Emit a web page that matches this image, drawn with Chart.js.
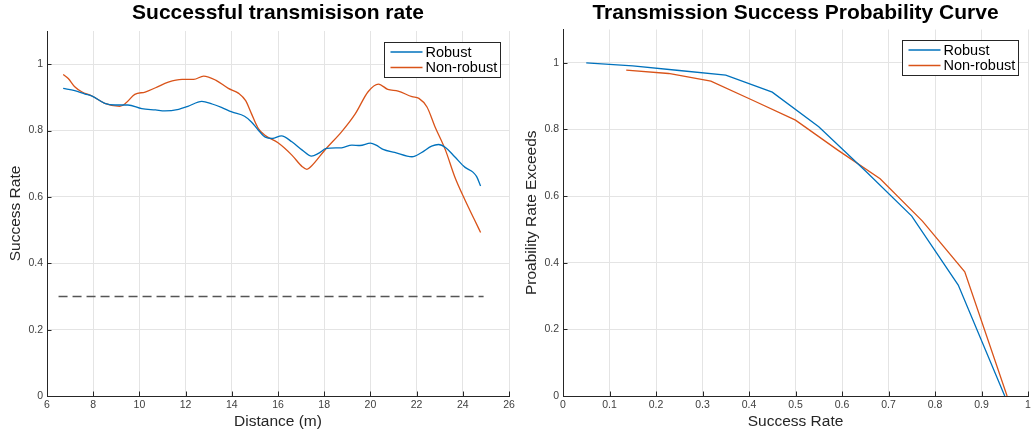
<!DOCTYPE html>
<html lang="en">
<head>
<meta charset="UTF-8">
<title>Transmission Success</title>
<script src="https://cdn.jsdelivr.net/npm/chart.js"></script>
<style>
    body { margin: 0; background: #fff; }
    #wrap { position: relative; width: 1032px; height: 434px; }
    #wrap canvas { position: absolute; top: 0; }
    #rateChart { left: 0; }
    #probChart { left: 516px; }
</style>
</head>
<body>
<div id="wrap">
    <canvas id="rateChart" width="516" height="434"></canvas>
    <canvas id="probChart" width="516" height="434"></canvas>
</div>
<script>
// success rate against distance (m)
const robustDist = [6.7, 7.2, 7.65, 7.95, 8.5, 8.95, 9.5, 10.1, 10.7, 11.1, 11.7, 12.1, 12.7, 13.15, 13.55, 14.0, 14.55, 14.85, 15.15, 15.45, 15.75, 16.15, 16.6, 17.05, 17.45, 17.75, 18.1, 18.75, 19.2, 19.55, 20.0, 20.25, 20.55, 21.05, 21.8, 22.2, 22.65, 22.95, 23.25, 23.65, 24.1, 24.45, 24.6, 24.77];
const robustRate = [0.927, 0.920, 0.910, 0.904, 0.882, 0.877, 0.877, 0.866, 0.862, 0.859, 0.864, 0.873, 0.888, 0.880, 0.870, 0.856, 0.843, 0.826, 0.801, 0.780, 0.776, 0.784, 0.766, 0.741, 0.723, 0.731, 0.746, 0.748, 0.756, 0.755, 0.762, 0.756, 0.743, 0.734, 0.721, 0.733, 0.753, 0.758, 0.749, 0.721, 0.689, 0.674, 0.661, 0.633];
const nonRobustDist = [6.7, 6.92, 7.2, 7.5, 7.95, 8.5, 9.15, 9.4, 9.8, 10.25, 10.7, 11.25, 11.85, 12.35, 12.78, 13.3, 13.85, 14.3, 14.6, 14.85, 15.15, 15.45, 16.0, 16.6, 17.05, 17.25, 17.45, 18.05, 18.75, 19.35, 19.9, 20.35, 20.75, 21.2, 21.8, 22.1, 22.45, 22.8, 23.25, 23.65, 24.1, 24.5, 24.77];
const nonRobustRate = [0.969, 0.957, 0.932, 0.917, 0.904, 0.882, 0.873, 0.882, 0.909, 0.916, 0.929, 0.946, 0.954, 0.954, 0.964, 0.952, 0.927, 0.912, 0.890, 0.851, 0.806, 0.785, 0.763, 0.726, 0.691, 0.683, 0.693, 0.743, 0.796, 0.851, 0.917, 0.940, 0.924, 0.919, 0.902, 0.897, 0.871, 0.811, 0.741, 0.661, 0.590, 0.532, 0.493];
const thresholdDist = [6.5, 24.9];
const thresholdRate = [0.3, 0.3];

// probability that the success rate exceeds a given value
const robustLevel = [0.05, 0.15, 0.25, 0.35, 0.45, 0.55, 0.65, 0.75, 0.85, 0.95];
const robustExceed = [1.0, 0.991, 0.977, 0.963, 0.912, 0.808, 0.676, 0.540, 0.333, 0.0];
const nonRobustLevel = [0.136, 0.227, 0.318, 0.409, 0.5, 0.591, 0.682, 0.773, 0.864, 0.955];
const nonRobustExceed = [0.978, 0.968, 0.945, 0.887, 0.828, 0.738, 0.652, 0.525, 0.373, 0.0];

const BLUE = '#0072BD';
const ORANGE = '#D95319';
const AXIS = '#262626';
const FONT = '"Liberation Sans", Arial, Helvetica, sans-serif';

Chart.defaults.font.family = FONT;
Chart.defaults.color = '#404040';

const pairs = (xs, ys) => xs.map((x, i) => ({ x: x, y: ys[i] }));
// "1" rather than "1.0", "0.3" rather than "0.30000000000000004"
const shortNum = v => String(+v.toFixed(2));

// matlab style: ticks point into the plot
const innerTicks = {
    id: 'innerTicks',
    afterDraw(chart) {
        const { ctx, chartArea: a, scales } = chart;
        ctx.save();
        ctx.strokeStyle = AXIS;
        ctx.lineWidth = 1;
        ctx.beginPath();
        scales.x.ticks.forEach(t => {
            const px = Math.round(scales.x.getPixelForValue(t.value)) + 0.5;
            ctx.moveTo(px, a.bottom);
            ctx.lineTo(px, a.bottom - 4.5);
        });
        scales.y.ticks.forEach(t => {
            const py = Math.round(scales.y.getPixelForValue(t.value)) + 0.5;
            ctx.moveTo(a.left, py);
            ctx.lineTo(a.left + 4.5, py);
        });
        ctx.stroke();
        ctx.restore();
    }
};

// boxed legend in the top right corner of the plot
const boxLegend = {
    id: 'boxLegend',
    afterDraw(chart, args, opts) {
        const { ctx, chartArea: a } = chart;
        const items = chart.data.datasets.filter(d => d.label);
        ctx.save();
        ctx.font = '14.5px ' + FONT;
        const textW = Math.max(...items.map(d => ctx.measureText(d.label).width));
        const w = Math.round(6 + 32 + 3 + textW + 3);
        const h = 35;
        const x0 = Math.round(a.right - opts.right - w) + 0.5;
        const y0 = Math.round(a.top + opts.top) + 0.5;
        ctx.fillStyle = '#fff';
        ctx.fillRect(x0, y0, w, h);
        ctx.strokeStyle = AXIS;
        ctx.lineWidth = 1;
        ctx.strokeRect(x0, y0, w, h);
        items.forEach((d, i) => {
            const y = y0 + 9.5 + i * 15.5;
            ctx.strokeStyle = d.borderColor;
            ctx.lineWidth = d.borderWidth;
            ctx.beginPath();
            ctx.moveTo(x0 + 6, y);
            ctx.lineTo(x0 + 38, y);
            ctx.stroke();
            ctx.fillStyle = '#000';
            ctx.textBaseline = 'middle';
            ctx.fillText(d.label, x0 + 41, y + 0.5);
        });
        ctx.restore();
    }
};

function fixSize(size) {
    return scale => {
        if (scale.isHorizontal()) scale.height = size;
        else scale.width = size;
        scale.paddingLeft = 0;
        scale.paddingRight = 0;
        scale.paddingTop = 0;
        scale.paddingBottom = 0;
    };
}

function axes(xMin, xMax, xStep, xTitle, yTitle) {
    const grid = { color: '#e4e4e4', lineWidth: 1, drawTicks: false };
    const border = { color: AXIS, width: 1 };
    return {
        x: {
            type: 'linear', min: xMin, max: xMax,
            ticks: { stepSize: xStep, padding: 3, font: { size: 10.5 }, maxRotation: 0, callback: shortNum },
            grid: grid, border: border,
            title: { display: true, text: xTitle, color: '#262626', font: { size: 15.5 }, padding: { top: 0, bottom: 3 } },
            afterFit: fixSize(38)
        },
        y: {
            type: 'linear', min: 0, max: 1.1,
            ticks: { stepSize: 0.2, padding: 4, font: { size: 10.5 }, includeBounds: false, callback: shortNum },
            grid: grid, border: border,
            title: { display: true, text: yTitle, color: '#262626', font: { size: 15.5 }, padding: { top: 6.2, bottom: 0 } },
            afterFit: fixSize(47)
        }
    };
}

function titleOpts(text, bottomPad) {
    return {
        display: true, text: text, fullSize: false, color: '#000',
        font: { size: 21, weight: 'bold' },
        padding: { top: 0.5, bottom: bottomPad }
    };
}

const lineStyle = { borderWidth: 1.3, pointRadius: 0, fill: false };

new Chart(document.getElementById('rateChart'), {
    type: 'line',
    data: {
        datasets: [
            Object.assign({ label: 'Robust', data: pairs(robustDist, robustRate), borderColor: BLUE, cubicInterpolationMode: 'monotone' }, lineStyle),
            Object.assign({ label: 'Non-robust', data: pairs(nonRobustDist, nonRobustRate), borderColor: ORANGE, cubicInterpolationMode: 'monotone' }, lineStyle),
            Object.assign({ label: '', data: pairs(thresholdDist, thresholdRate), borderColor: '#555555', borderDash: [9, 5] }, lineStyle, { borderWidth: 1.5 })
        ]
    },
    options: {
        responsive: false,
        animation: false,
        layout: { padding: { left: 0, right: 7, top: 0, bottom: 0 } },
        scales: axes(6, 26, 2, 'Distance (m)', 'Success Rate'),
        plugins: {
            legend: { display: false },
            tooltip: { enabled: false },
            title: titleOpts('Successful transmisison rate', 5.3),
            boxLegend: { right: 9.5, top: 11.3 }
        }
    },
    plugins: [innerTicks, boxLegend]
});

new Chart(document.getElementById('probChart'), {
    type: 'line',
    data: {
        datasets: [
            Object.assign({ label: 'Robust', data: pairs(robustLevel, robustExceed), borderColor: BLUE, tension: 0 }, lineStyle),
            Object.assign({ label: 'Non-robust', data: pairs(nonRobustLevel, nonRobustExceed), borderColor: ORANGE, tension: 0 }, lineStyle)
        ]
    },
    options: {
        responsive: false,
        animation: false,
        layout: { padding: { left: 0, right: 4, top: 0, bottom: 0 } },
        scales: axes(0, 1, 0.1, 'Success Rate', 'Proability Rate Exceeds'),
        plugins: {
            legend: { display: false },
            tooltip: { enabled: false },
            title: titleOpts('Transmission Success Probability Curve', 3.8),
            boxLegend: { right: 9.7, top: 10.5 }
        }
    },
    plugins: [innerTicks, boxLegend]
});
</script>
</body>
</html>
